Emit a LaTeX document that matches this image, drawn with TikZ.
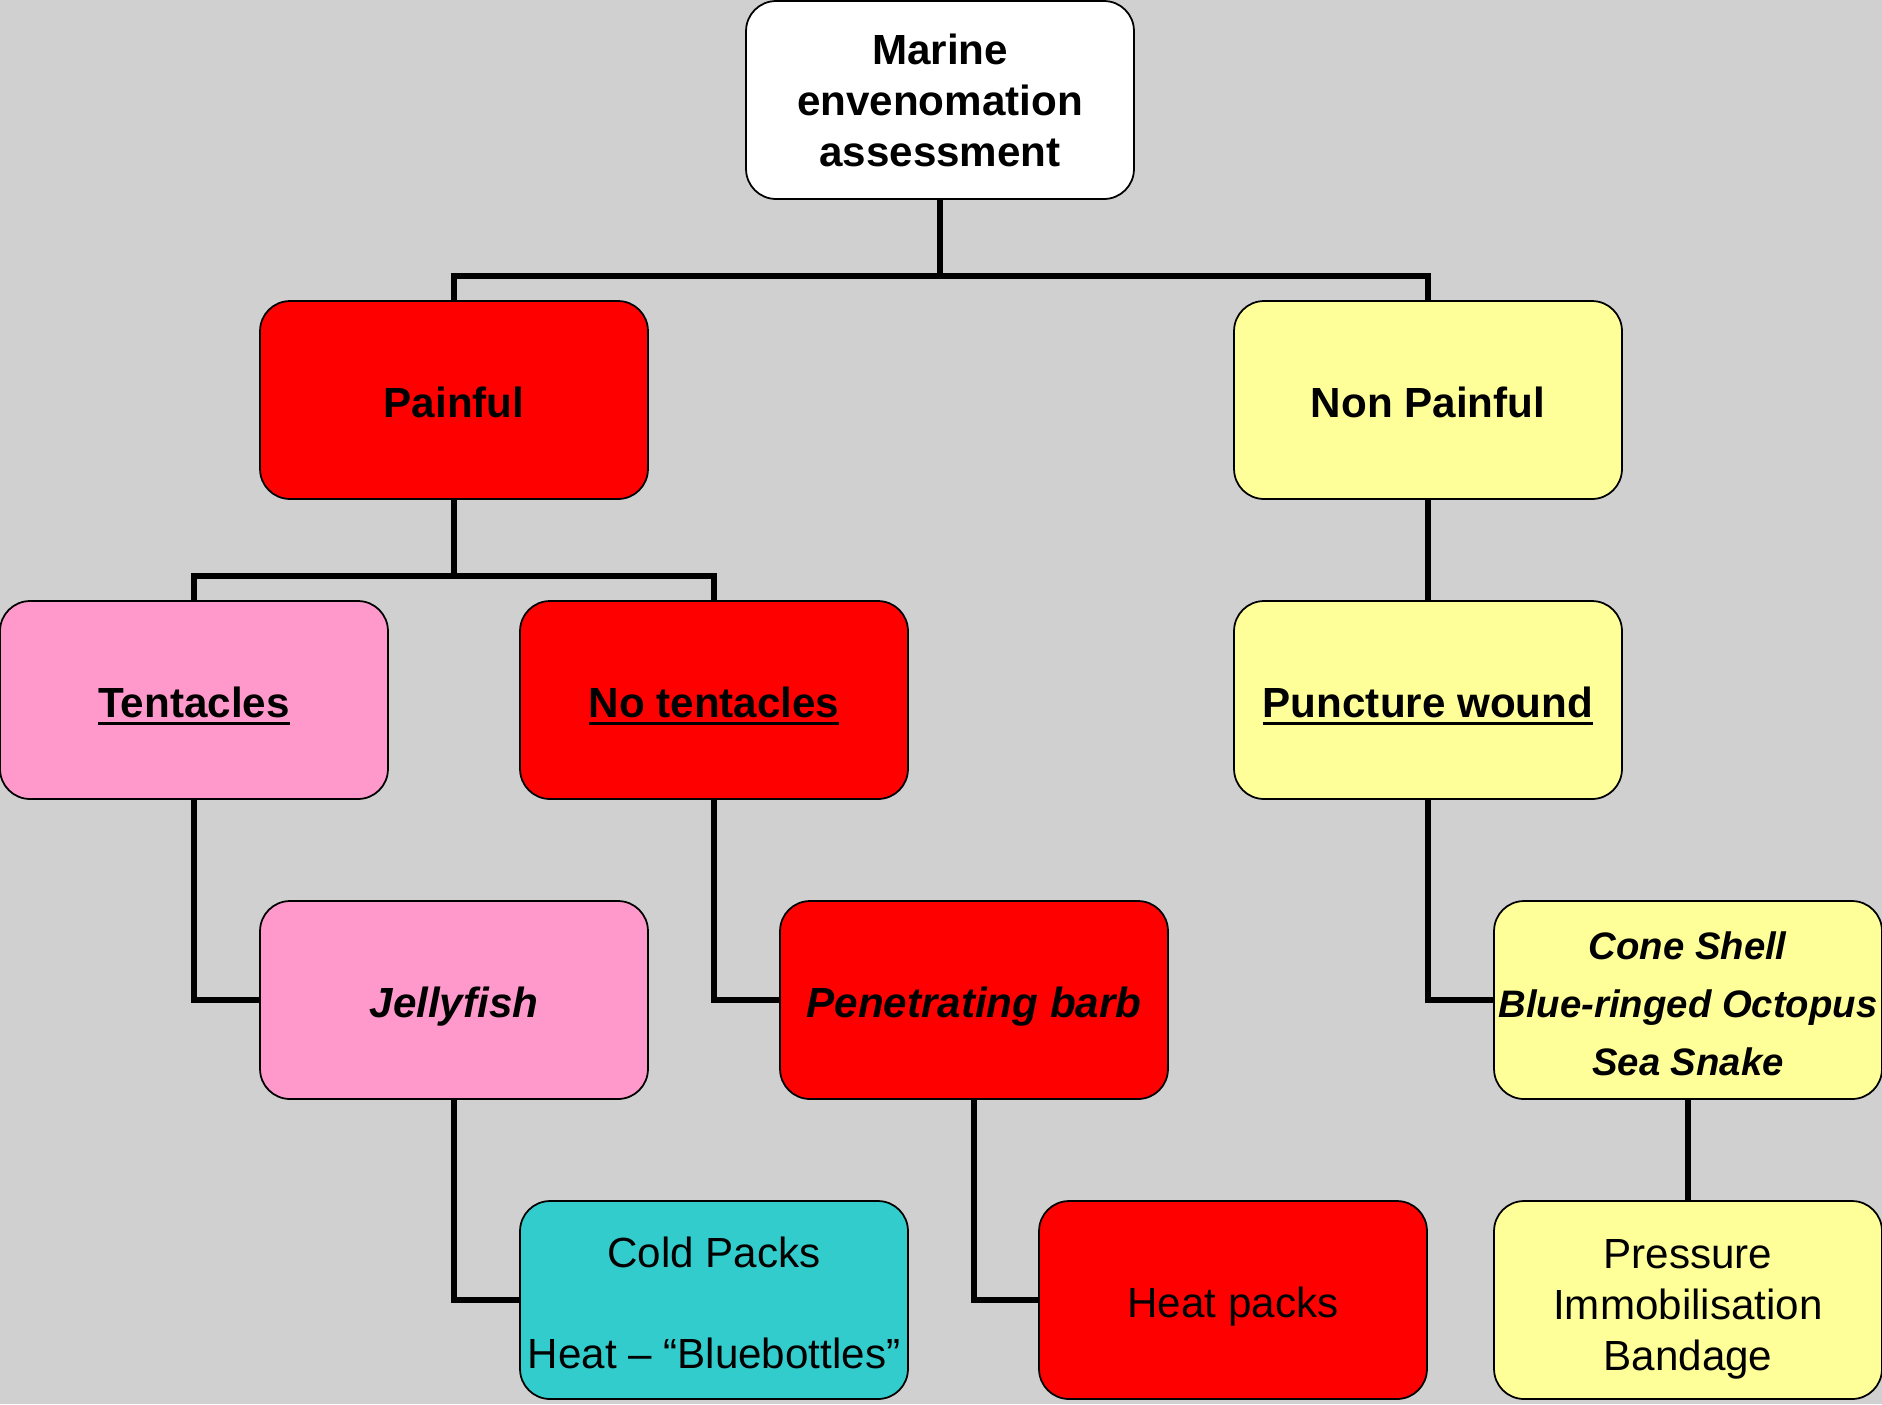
\documentclass[tikz,border=0pt]{standalone}
\usepackage{fontspec}
\setmainfont{Liberation Sans}
\newcommand{\myul}[1]{\setbox0\hbox{#1}\rlap{\smash{\rule[-4.5pt]{\wd0}{2.2pt}}}\box0}
\definecolor{bgc}{RGB}{208,208,208}
\definecolor{cred}{RGB}{255,0,0}
\definecolor{cpink}{RGB}{255,153,204}
\definecolor{cyel}{RGB}{255,255,153}
\definecolor{cteal}{RGB}{51,204,204}
\pgfdeclarelayer{bg}
\pgfdeclarelayer{paper}
\pgfsetlayers{paper,bg,main}
\begin{document}
\begin{tikzpicture}[x=0.02cm,y=-0.02cm,
  box/.style={draw=black,line width=1pt,rounded corners=0.6cm,
    minimum width=7.76cm,minimum height=3.96cm,inner sep=0pt,outer sep=0pt,
    align=center,font=\fontsize{24}{29}\selectfont},
  one/.style={text height=25pt,text depth=5.1pt},
  conn/.style={line width=3.4pt,line join=miter}]
\begin{pgfonlayer}{paper}
\fill[bgc] (0,0) rectangle (1882,1404);
\end{pgfonlayer}
\useasboundingbox (0,0) rectangle (1882,1404);

\node[box,fill=white] (top) at (940,100) {\textbf{Marine}\\\textbf{envenomation}\\\textbf{assessment}};
\node[box,one,fill=cred] (painful) at (454,400) {\textbf{Painful}};
\node[box,one,fill=cyel] (nonp) at (1428,400) {\textbf{Non Painful}};
\node[box,one,fill=cpink] (tent) at (194,700) {\myul{\textbf{Tentacles}}};
\node[box,one,fill=cred] (notent) at (714,700) {\myul{\textbf{No tentacles}}};
\node[box,one,fill=cyel] (punct) at (1428,700) {\myul{\textbf{Puncture wound}}};
\node[box,one,fill=cpink] (jelly) at (454,1000) {\textbf{\textit{Jellyfish}}};
\node[box,one,fill=cred] (barb) at (974,1000) {\textbf{\textit{Penetrating barb}}};
\node[box,fill=cyel,font=\fontsize{21.8}{33}\selectfont] (cone) at (1688,1000) {\rule{0pt}{20pt}\textbf{\textit{Cone Shell}}\\\textbf{\textit{Blue-ringed Octopus}}\\\textbf{\textit{Sea Snake}}};
\node[box,fill=cteal] (cold) at (714,1300) {\rule{0pt}{21pt}Cold Packs\\[28.5pt]Heat – “Bluebottles”};
\node[box,one,fill=cred] (heat) at (1233,1300) {Heat packs};
\node[box,fill=cyel] (press) at (1688,1300) {\rule{0pt}{27pt}Pressure\\Immobilisation\\Bandage};

\coordinate (j1) at (940,276);
\coordinate (j2) at (454,576);
\begin{pgfonlayer}{bg}
\draw[conn] (top.south) -- (j1);
\draw[conn] (painful.north) |- (j1) -| (nonp.north);
\draw[conn] (painful.south) -- (j2);
\draw[conn] (tent.north) |- (j2) -| (notent.north);
\draw[conn] (nonp.south) -- (punct.north);
\draw[conn] (tent.south) |- (jelly.west);
\draw[conn] (notent.south) |- (barb.west);
\draw[conn] (punct.south) |- (cone.west);
\draw[conn] (jelly.south) |- (cold.west);
\draw[conn] (barb.south) |- (heat.west);
\draw[conn] (cone.south) -- (press.north);
\end{pgfonlayer}
\end{tikzpicture}
\end{document}
